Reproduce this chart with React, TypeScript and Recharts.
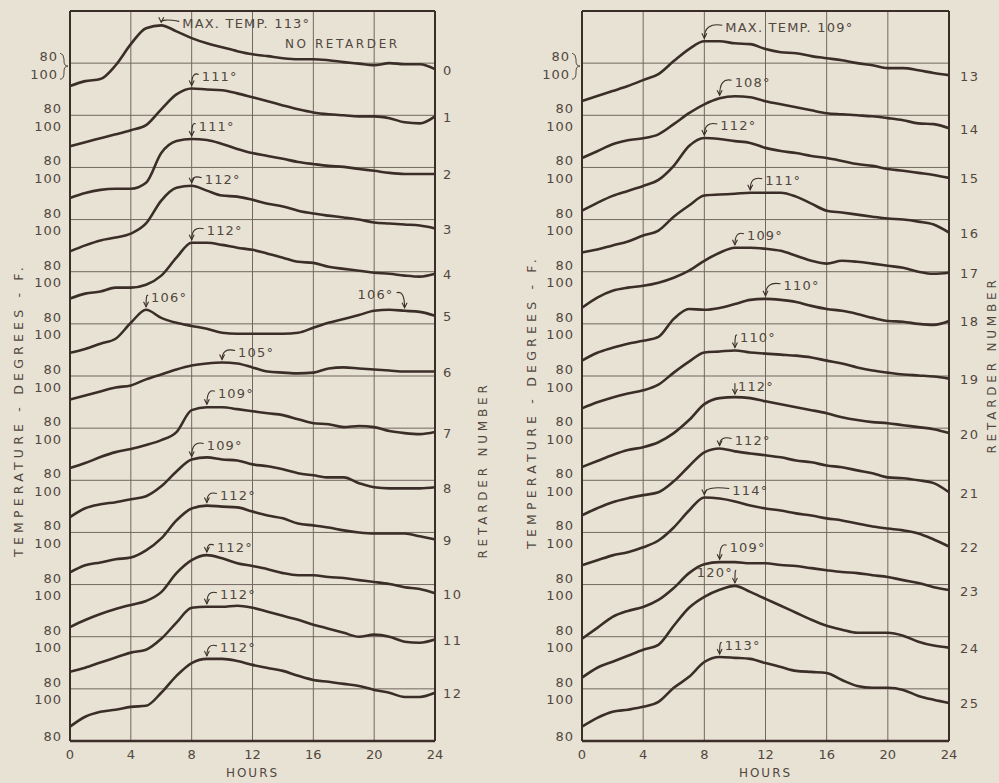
import React from "react";
import { LineChart, Line, XAxis, YAxis, CartesianGrid, ReferenceDot, ReferenceLine } from "recharts";

const PAPER = "#e8e2d4";
const INK = "#3b2e28";
const GRID = "#70675e";
const TEXT = "#51473f";
const FONT = "'DejaVu Sans', sans-serif";

// hours of the day, x axis
const hours = [0, 1, 2, 3, 4, 5, 6, 7, 8, 9, 10, 11, 12, 13, 14, 15, 16, 17, 18, 19, 20, 21, 22, 23, 24];
const hourTicks = [0, 4, 8, 12, 16, 20, 24];
// each curve is shifted down 20 deg from the one above it
const STEP = 20;
const yTicks = [120, 100, 80, 60, 40, 20, 0, -20, -40, -60, -80, -100, -120, -140, -160];

// temperatures (deg F) read hourly, retarders 0-12
const r0 = [91.2, 93.1, 93.9, 99.2, 107.3, 113.4, 114.5, 112.2, 109.6, 107.6, 106.1, 104.6, 103.4, 102.7, 101.9, 101.5, 101.5, 101.1, 100.4, 99.8, 99.2, 100, 99.6, 99.6, 97.7];
const r1 = [88.1, 89.7, 91.2, 92.7, 94.3, 96.2, 102.3, 108.0, 110.3, 109.9, 109.6, 108.4, 106.9, 105.4, 103.8, 102.3, 101.1, 100.4, 100, 99.6, 99.6, 98.9, 97.3, 96.9, 99.6];
const r2 = [88.3, 90.2, 91.4, 91.8, 91.8, 94.1, 105.5, 110.1, 110.9, 110.5, 109.0, 107.1, 105.5, 104.4, 103.3, 102.1, 101.3, 100.6, 100.2, 99.4, 98.7, 97.9, 97.5, 97.5, 97.5];
const r3 = [87.8, 90.1, 92.0, 93.1, 94.6, 98.5, 107.3, 112.2, 113.0, 111.1, 109.2, 108.8, 107.6, 106.1, 105.0, 103.4, 102.3, 101.5, 100.8, 100, 98.9, 98.5, 98.1, 97.7, 96.6];
const r4 = [89.7, 91.6, 92.4, 93.9, 93.9, 95.0, 98.5, 105.4, 111.1, 111.1, 110.3, 109.2, 108.4, 106.9, 105.4, 103.8, 103.4, 101.9, 101.1, 100.4, 99.6, 99.2, 98.5, 98.1, 99.2];
const r5 = [88.9, 90.4, 92.4, 94.3, 100.4, 105.4, 102.3, 100.4, 99.2, 98.1, 96.6, 96.2, 96.2, 96.2, 96.2, 96.6, 98.5, 100.4, 101.9, 103.4, 105.0, 105.4, 105.0, 104.6, 103.1];
const r6 = [91.0, 92.5, 94.1, 95.6, 96.4, 98.7, 100.6, 102.5, 104.0, 104.8, 105.2, 104.8, 103.3, 101.7, 101.3, 101.0, 101.3, 102.9, 103.3, 102.9, 102.5, 102.1, 101.7, 101.7, 101.7];
const r7 = [84.7, 86.6, 88.9, 90.8, 92.0, 93.5, 95.4, 98.5, 106.9, 108.0, 108.0, 107.3, 106.5, 105.7, 105.0, 103.4, 101.9, 101.5, 100.4, 100.8, 100.4, 98.9, 98.1, 97.7, 98.5];
const r8 = [85.9, 89.3, 90.8, 91.6, 92.7, 93.9, 97.7, 103.4, 108.0, 108.8, 108.0, 107.6, 106.1, 105.4, 104.2, 102.7, 101.9, 101.1, 101.1, 98.9, 97.3, 96.9, 96.9, 96.9, 97.3];
const r9 = [84.7, 87.4, 88.5, 89.7, 90.4, 93.1, 97.7, 104.6, 109.2, 110.3, 109.9, 109.6, 108.0, 106.5, 105.4, 103.4, 102.7, 101.9, 100.8, 100, 99.6, 99.6, 99.6, 98.5, 97.3];
const r10 = [83.7, 86.4, 88.7, 90.6, 92.2, 93.7, 97.1, 104.4, 109.4, 111.3, 110.1, 108.2, 107.1, 105.9, 104.4, 103.6, 103.6, 102.9, 102.5, 101.7, 101.0, 100.2, 99.0, 98.3, 96.7];
const r11 = [86.6, 88.1, 90.1, 92.0, 93.9, 95.0, 99.2, 105.4, 111.1, 111.5, 111.5, 111.9, 111.1, 109.6, 108.0, 106.5, 104.6, 103.1, 101.5, 100, 100.8, 100, 98.1, 97.7, 98.9];
const r12 = [85.5, 89.3, 91.2, 92.0, 93.1, 93.5, 98.5, 105.0, 109.9, 111.5, 111.5, 110.7, 109.2, 108.0, 106.9, 105.0, 103.4, 102.7, 101.9, 101.1, 99.6, 98.5, 96.9, 96.9, 98.5];

// retarders 13-25
const r13 = [85.5, 87.4, 89.3, 91.2, 93.5, 95.8, 100.8, 105.4, 108.4, 108.4, 107.6, 107.3, 105.4, 104.2, 103.8, 102.7, 101.9, 101.1, 100, 99.2, 98.1, 98.1, 97.3, 96.2, 95.4];
const r14 = [83.6, 86.2, 88.9, 90.4, 91.2, 92.7, 96.6, 100.8, 104.2, 106.5, 107.3, 106.9, 105.4, 104.2, 103.1, 101.9, 100.8, 100.4, 100, 99.6, 98.9, 98.1, 96.9, 96.6, 95.0];
const r15 = [83.4, 86.4, 89.1, 91.0, 92.9, 95.2, 100.6, 108.2, 111.3, 110.9, 110.1, 109.4, 107.5, 106.3, 105.5, 104.4, 103.6, 102.5, 101.3, 100.6, 99.4, 98.7, 97.9, 97.1, 96.0];
const r16 = [87.4, 88.5, 90.1, 91.6, 93.9, 95.8, 101.1, 105.4, 109.2, 109.6, 109.9, 110.3, 110.3, 110.3, 108.8, 106.1, 103.4, 102.7, 101.9, 101.1, 100.4, 100, 99.2, 98.1, 95.0];
const r17 = [86.2, 90.1, 92.7, 93.9, 94.6, 95.8, 97.7, 100.4, 104.2, 107.3, 109.2, 109.2, 108.8, 108.0, 106.1, 104.2, 103.1, 104.2, 103.8, 103.1, 102.3, 101.5, 100, 99.2, 99.6];
const r18 = [85.9, 88.9, 90.8, 92.4, 93.5, 95.0, 101.9, 105.7, 105.4, 106.1, 107.6, 109.2, 109.6, 109.2, 108.4, 106.9, 105.7, 105.0, 103.8, 102.3, 101.1, 100.8, 100, 99.6, 101.1];
const r19 = [87.6, 89.9, 91.8, 93.3, 94.5, 96.7, 101.3, 105.5, 109.0, 109.4, 109.8, 109.0, 108.6, 108.2, 107.8, 107.1, 105.9, 104.8, 103.3, 102.1, 101.3, 100.6, 100.2, 99.8, 99.0];
const r20 = [85.1, 87.4, 89.7, 91.6, 92.7, 94.6, 98.1, 103.1, 109.2, 111.5, 111.9, 111.5, 110.3, 109.2, 108.0, 106.9, 105.7, 104.2, 103.1, 102.3, 101.9, 101.1, 100.4, 99.6, 98.1];
const r21 = [86.6, 89.3, 91.6, 93.1, 94.3, 95.4, 99.6, 105.4, 110.7, 112.2, 111.1, 110.3, 109.6, 108.8, 107.6, 106.9, 105.7, 105.0, 103.8, 102.7, 101.1, 100.8, 100, 98.9, 95.4];
const r22 = [87.4, 89.3, 91.2, 92.4, 94.3, 96.9, 101.9, 108.4, 113.4, 113.0, 111.9, 110.3, 109.2, 108.4, 107.3, 106.5, 105.4, 104.6, 103.4, 102.3, 101.5, 100.8, 99.6, 97.3, 94.6];
const r23 = [79.2, 83.4, 87.6, 89.9, 91.4, 94.1, 98.7, 104.4, 107.8, 108.6, 108.6, 108.2, 108.2, 107.5, 107.1, 106.3, 105.5, 104.8, 104.4, 103.6, 102.9, 101.7, 100.6, 99.0, 97.9];
const r24 = [84.3, 88.1, 90.4, 92.7, 95.0, 96.9, 104.2, 111.1, 115.3, 118.0, 119.5, 117.2, 114.5, 111.9, 109.2, 106.5, 104.2, 102.7, 101.5, 101.5, 101.5, 100.4, 98.1, 96.6, 95.8];
const r25 = [85.5, 88.9, 91.2, 92.0, 93.1, 95.0, 100.4, 104.6, 110.3, 112.2, 111.9, 111.5, 109.9, 108.4, 106.9, 106.5, 106.1, 103.4, 101.1, 100.4, 100.4, 99.6, 97.3, 95.8, 94.6];

const leftSeries = [r0, r1, r2, r3, r4, r5, r6, r7, r8, r9, r10, r11, r12];
const rightSeries = [r13, r14, r15, r16, r17, r18, r19, r20, r21, r22, r23, r24, r25];
const leftNumbers = ["0", "1", "2", "3", "4", "5", "6", "7", "8", "9", "10", "11", "12"];
const rightNumbers = ["13", "14", "15", "16", "17", "18", "19", "20", "21", "22", "23", "24", "25"];

// peak call-outs: curve index in panel, hour, text
const leftNotes = [
  { s: 0, h: 6, text: "MAX. TEMP. 113°", dx: 21, dy: -2 },
  { s: 0, h: 16, text: "NO RETARDER", dx: 29, dy: -15, anchor: "middle", arrow: false },
  { s: 1, h: 8, text: "111°", dx: 10, dy: -12 },
  { s: 2, h: 8, text: "111°", dx: 7, dy: -13 },
  { s: 3, h: 8, text: "112°", dx: 13, dy: -6 },
  { s: 4, h: 8, text: "112°", dx: 15, dy: -12 },
  { s: 5, h: 5, text: "106°", dx: 5, dy: -12 },
  { s: 5, h: 22, text: "106°", dx: -11, dy: -16, anchor: "end" },
  { s: 6, h: 10, text: "105°", dx: 16, dy: -10 },
  { s: 7, h: 9, text: "109°", dx: 11, dy: -14 },
  { s: 8, h: 8, text: "109°", dx: 15, dy: -14 },
  { s: 9, h: 9, text: "112°", dx: 13, dy: -10 },
  { s: 10, h: 9, text: "112°", dx: 10, dy: -8 },
  { s: 11, h: 9, text: "112°", dx: 13, dy: -12 },
  { s: 12, h: 9, text: "112°", dx: 13, dy: -11 },
];
const rightNotes = [
  { s: 0, h: 8, text: "MAX. TEMP. 109°", dx: 21, dy: -14 },
  { s: 1, h: 9, text: "108°", dx: 15, dy: -16 },
  { s: 2, h: 8, text: "112°", dx: 16, dy: -12 },
  { s: 3, h: 11, text: "111°", dx: 15, dy: -12 },
  { s: 4, h: 10, text: "109°", dx: 12, dy: -12 },
  { s: 5, h: 12, text: "110°", dx: 18, dy: -13 },
  { s: 6, h: 10, text: "110°", dx: 5, dy: -13 },
  { s: 7, h: 10, text: "112°", dx: 3, dy: -11 },
  { s: 8, h: 9, text: "112°", dx: 15, dy: -8 },
  { s: 9, h: 8, text: "114°", dx: 28, dy: -7 },
  { s: 10, h: 9, text: "109°", dx: 10, dy: -15 },
  { s: 11, h: 10, text: "120°", dx: -2, dy: -13, anchor: "end" },
  { s: 12, h: 9, text: "113°", dx: 5, dy: -12 },
];

function buildRows(series: number[][]) {
  return hours.map((h, i) => {
    const row: Record<string, number> = { h };
    series.forEach((s, k) => {
      row["s" + k] = s[i] - STEP * k;
    });
    return row;
  });
}

const textStyle = { fontFamily: FONT, fill: TEXT, fontSize: 13 };

function TempTick(props: any) {
  const { x, y, payload } = props;
  const v = payload.value;
  if (v === 120) return null;
  const common = { ...textStyle, textAnchor: "end" as const, dominantBaseline: "central" as const, letterSpacing: 1 };
  if (v === -160) {
    return <text x={x} y={y - 5} {...common}>80</text>;
  }
  if (v === 100) {
    const bx = x - 2;
    const by = y + 3;
    return (
      <g>
        <text x={x - 4} y={y - 6.5} {...common}>80</text>
        <text x={x - 4} y={y + 11} {...common}>100</text>
        <path
          d={`M${bx},${by - 13} q4,1 4,6 v2 q0,5 4,5 q-4,0 -4,5 v2 q0,6 -4,6`}
          fill="none"
          stroke={TEXT}
          strokeWidth={1}
        />
      </g>
    );
  }
  return (
    <g>
      <text x={x} y={y - 6.5} {...common}>80</text>
      <text x={x} y={y + 11} {...common}>100</text>
    </g>
  );
}

function SideTitle(props: any) {
  const { viewBox, text, dx, dy, spacing = 2.4, size = 12 } = props;
  const vb = viewBox || { x: 0, y: 0, width: 0, height: 0 };
  const cx = vb.x + dx;
  const cy = vb.y + vb.height / 2 + dy;
  return (
    <text
      x={cx}
      y={cy}
      transform={`rotate(-90 ${cx} ${cy})`}
      textAnchor="middle"
      dominantBaseline="central"
      letterSpacing={spacing}
      style={{ fontFamily: FONT, fontSize: size }}
      fill={TEXT}
    >
      {text}
    </text>
  );
}

function HoursTitle(props: any) {
  const vb = props.viewBox || { x: 0, y: 0, width: 0, height: 0 };
  return (
    <text
      x={vb.x + vb.width / 2}
      y={vb.y + 32}
      textAnchor="middle"
      dominantBaseline="central"
      letterSpacing={2}
      style={{ fontFamily: FONT, fontSize: 12 }}
      fill={TEXT}
    >
      HOURS
    </text>
  );
}

function Note(props: any) {
  const { cx, cy, text, dx, dy, anchor = "start", arrow = true } = props;
  const tx = cx + dx;
  const ty = cy + dy;
  const sx = anchor === "end" ? tx + 3 : tx - 3;
  const sy = ty - 2;
  const plain = anchor === "middle";
  return (
    <g>
      {arrow && (
        <>
          <path d={`M${sx},${sy} Q${cx},${sy - 3} ${cx},${cy - 3}`} fill="none" stroke={INK} strokeWidth={1.1} />
          <path d={`M${cx - 2.5},${cy - 8} L${cx},${cy - 3} L${cx + 2.5},${cy - 8}`} fill="none" stroke={INK} strokeWidth={1.1} />
        </>
      )}
      <text
        x={tx}
        y={ty}
        textAnchor={anchor}
        dominantBaseline="central"
        letterSpacing={plain ? 2.6 : 1.2}
        style={{ fontFamily: FONT, fontSize: plain ? 12 : 13 }}
        fill={TEXT}
      >
        {text}
      </text>
    </g>
  );
}

interface PanelProps {
  series: number[][];
  numbers: string[];
  notes: any[];
  left: number;
  width: number;
  leftAxisWidth: number;
  rightMargin: number;
  numberGap: number;
  tempTitle: { dx: number; dy: number };
  numTitle: { dx: number; dy: number };
}

function Panel({ series, numbers, notes, left, width, leftAxisWidth, rightMargin, numberGap, tempTitle, numTitle }: PanelProps) {
  const rows = buildRows(series);
  return (
    <div style={{ position: "absolute", left, top: 0 }}>
      <LineChart width={width} height={783} data={rows} margin={{ top: 11, right: rightMargin, bottom: 2, left: 0 }}>
        <CartesianGrid stroke={GRID} strokeWidth={1} />
        <XAxis
          dataKey="h"
          type="number"
          domain={[0, 24]}
          ticks={hourTicks}
          interval={0}
          tickLine={false}
          tickSize={0}
          tickMargin={9}
          axisLine={{ stroke: INK, strokeWidth: 2.5 }}
          tick={{ fontFamily: FONT, fill: TEXT, fontSize: 13 }}
          height={40}
          label={<HoursTitle />}
        />
        <YAxis
          type="number"
          domain={[-160, 120]}
          ticks={yTicks}
          interval={0}
          tickLine={false}
          tickSize={0}
          tickMargin={8}
          axisLine={{ stroke: INK, strokeWidth: 2 }}
          width={leftAxisWidth}
          tick={<TempTick />}
          label={<SideTitle text="TEMPERATURE - DEGREES - F." dx={tempTitle.dx} dy={tempTitle.dy} spacing={4.2} size={12.5} />}
        />
        <YAxis
          yAxisId="n"
          orientation="right"
          type="number"
          domain={[-160, 120]}
          tick={false}
          tickLine={false}
          axisLine={{ stroke: INK, strokeWidth: 2 }}
          width={30}
          label={<SideTitle text="RETARDER NUMBER" dx={numTitle.dx} dy={numTitle.dy} spacing={3.8} size={12} />}
        />
        <ReferenceLine y={120} stroke={INK} strokeWidth={2} />
        {series.map((_, k) => (
          <Line
            key={k}
            dataKey={"s" + k}
            type="monotone"
            stroke={INK}
            strokeWidth={2.6}
            dot={false}
            activeDot={false}
            isAnimationActive={false}
          />
        ))}
        {notes.map((n, i) => (
          <ReferenceDot
            key={"n" + i}
            x={n.h}
            y={series[n.s][n.h] - STEP * n.s}
            r={1}
            ifOverflow="visible"
            shape={(p: any) => <Note cx={p.cx} cy={p.cy} {...n} />}
          />
        ))}
        {series.map((s, k) => (
          <ReferenceDot
            key={"r" + k}
            x={24}
            y={s[24] - STEP * k}
            r={1}
            ifOverflow="visible"
            shape={(p: any) => (
              <text
                x={p.cx + numberGap}
                y={p.cy + 1}
                dominantBaseline="central"
                letterSpacing={1.5}
                style={{ fontFamily: FONT, fontSize: 13 }}
                fill={TEXT}
              >
                {numbers[k]}
              </text>
            )}
          />
        ))}
      </LineChart>
    </div>
  );
}

export default function App() {
  return (
    <div style={{ position: "absolute", left: 0, top: 0, width: 999, height: 783, background: PAPER, overflow: "hidden" }}>
      <Panel
        series={leftSeries}
        numbers={leftNumbers}
        notes={leftNotes}
        left={0}
        width={500}
        leftAxisWidth={70}
        rightMargin={35}
        numberGap={8}
        tempTitle={{ dx: 18, dy: 34 }}
        numTitle={{ dx: 48, dy: 94 }}
      />
      <Panel
        series={rightSeries}
        numbers={rightNumbers}
        notes={rightNotes}
        left={500}
        width={499}
        leftAxisWidth={82}
        rightMargin={20}
        numberGap={11}
        tempTitle={{ dx: 31, dy: 26 }}
        numTitle={{ dx: 43, dy: -11 }}
      />
    </div>
  );
}
